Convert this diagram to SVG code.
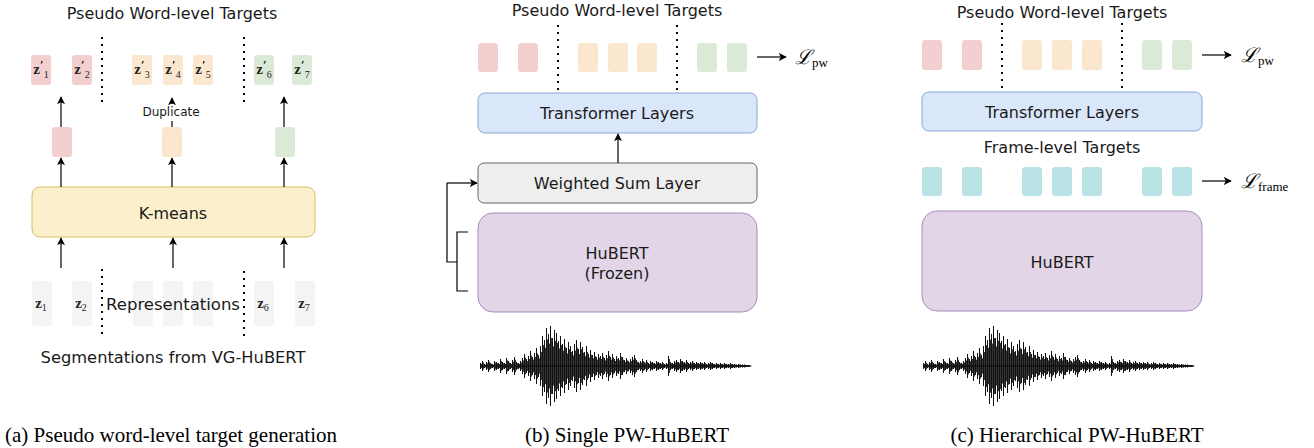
<svg xmlns="http://www.w3.org/2000/svg" xmlns:xlink="http://www.w3.org/1999/xlink" width="1314" height="448" viewBox="0 0 1314 448">
<style>
.t{font-family:"DejaVu Sans","Liberation Sans",sans-serif;fill:#1a1a1a;text-anchor:middle}
.cap{font-family:"Liberation Serif","Times New Roman",serif;font-size:21px;fill:#000;text-anchor:middle}
.m{font-family:"DejaVu Serif","Liberation Serif",serif;fill:#000}
.zb{font-family:"Liberation Serif",serif;font-weight:bold;font-size:15px;fill:#222;text-anchor:middle}
.red{fill:#f3d0cf}.org{fill:#fbe6cf}.grn{fill:#dbe9d7}.gry{fill:#f4f4f4}.teal{fill:#bae3e5}
.dot{stroke:#000;stroke-width:2;stroke-dasharray:2 5;fill:none}
.ln{stroke:#000;stroke-width:1.2;fill:none}
.wave{stroke:#111;stroke-width:1;fill:none}
</style>
<defs>
<marker id="ah" viewBox="0 0 10 10" refX="9" refY="5" markerWidth="8" markerHeight="8" markerUnits="userSpaceOnUse" orient="auto">
<path d="M0,0 L10,5 L0,10 L2.5,5 Z" fill="#000"/>
</marker>
<g id="wavePath">
<path class="wave" stroke-width="1.6" d="M0,0H270"/>
<path class="wave" d="M0,-3V3M2,-5V5M4,-2V2M6,-4V4M8,-6V6M10,-3V3M12,-2V2M14,-5V5M16,-4V4M18,-3V3M20,-7V7M22,-4V4M24,-3V3M26,-8V8M28,-5V5M30,-3V3M32,-6V6M34,-9V9M36,-4V4M38,-3V3M40,-5V5M42,-8V8M44,-12V12M46,-7V7M48,-10V10M50,-15V15M52,-9V9M54,-13V13M56,-18V18M58,-11V11M60,-20V20M62,-30V30M64,-26V26M66,-38V38M68,-32V32M70,-40V40M72,-28V28M74,-36V36M76,-33V33M78,-25V25M80,-30V30M82,-22V22M84,-27V27M86,-18V18M88,-24V24M90,-20V20M92,-15V15M94,-22V22M96,-26V26M98,-17V17M100,-24V24M102,-19V19M104,-14V14M106,-20V20M108,-12V12M110,-16V16M112,-11V11M114,-14V14M116,-9V9M118,-12V12M120,-10V10M122,-13V13M124,-8V8M126,-11V11M128,-15V15M130,-9V9M132,-12V12M134,-7V7M136,-10V10M138,-8V8M140,-13V13M142,-9V9M144,-6V6M146,-8V8M148,-5V5M150,-7V7M152,-9V9M154,-11V11M156,-6V6M158,-4V4M160,-5V5M162,-7V7M164,-4V4M166,-6V6M168,-3V3M170,-5V5M172,-4V4M174,-3V3M176,-5V5M178,-4V4M180,-3V3M182,-4V4M184,-2V2M186,-3V3M188,-10V10M190,-4V4M192,-3V3M194,-5V5M196,-6V6M198,-4V4M200,-7V7M202,-5V5M204,-4V4M206,-6V6M208,-3V3M210,-4V4M212,-5V5M214,-3V3M216,-4V4M218,-3V3M220,-4V4M222,-3V3M224,-4V4M226,-2V2M228,-3V3M230,-4V4M232,-3V3M234,-2V2M236,-3V3M238,-2V2M240,-3V3M242,-2V2M244,-3V3M246,-2V2M248,-2V2M250,-3V3M252,-2V2M254,-2V2M256,-1.5V1.5M258,-2V2M260,-1.5V1.5M262,-1.5V1.5M264,-1.5V1.5M266,-1V1M268,-1V1"/>
</g>
<g id="wave">
<use xlink:href="#wavePath" href="#wavePath"/>
<use xlink:href="#wavePath" href="#wavePath" transform="translate(1,0) scale(1,0.7)"/>
</g>
</defs>
<rect width="1314" height="448" fill="#fff"/>

<!-- ============ Panel (a) ============ -->
<g id="a-title"><text class="t" x="172" y="19" font-size="16">Pseudo Word-level Targets</text></g>
<g id="a-targets">
<rect class="red" x="31" y="55" width="20" height="30" rx="3"/>
<rect class="red" x="72" y="55" width="20" height="30" rx="3"/>
<rect class="org" x="132" y="55" width="20" height="30" rx="3"/>
<rect class="org" x="163" y="55" width="20" height="30" rx="3"/>
<rect class="org" x="193" y="55" width="20" height="30" rx="3"/>
<rect class="grn" x="254" y="55" width="20" height="30" rx="3"/>
<rect class="grn" x="292" y="55" width="20" height="30" rx="3"/>
<text class="zb" x="41" y="74">z<tspan font-size="13" dy="-5">′</tspan><tspan font-weight="normal" font-size="10" dy="9">1</tspan></text>
<text class="zb" x="82" y="74">z<tspan font-size="13" dy="-5">′</tspan><tspan font-weight="normal" font-size="10" dy="9">2</tspan></text>
<text class="zb" x="142" y="74">z<tspan font-size="13" dy="-5">′</tspan><tspan font-weight="normal" font-size="10" dy="9">3</tspan></text>
<text class="zb" x="173" y="74">z<tspan font-size="13" dy="-5">′</tspan><tspan font-weight="normal" font-size="10" dy="9">4</tspan></text>
<text class="zb" x="203" y="74">z<tspan font-size="13" dy="-5">′</tspan><tspan font-weight="normal" font-size="10" dy="9">5</tspan></text>
<text class="zb" x="264" y="74">z<tspan font-size="13" dy="-5">′</tspan><tspan font-weight="normal" font-size="10" dy="9">6</tspan></text>
<text class="zb" x="302" y="74">z<tspan font-size="13" dy="-5">′</tspan><tspan font-weight="normal" font-size="10" dy="9">7</tspan></text>
</g>
<g id="a-clusters">
<rect class="red" x="52" y="127" width="20" height="30" rx="3"/>
<rect class="org" x="162" y="127" width="20" height="30" rx="3"/>
<rect class="grn" x="275" y="127" width="20" height="30" rx="3"/>
</g>
<g id="a-duplicate"><text class="t" x="171" y="116" font-size="12">Duplicate</text></g>
<g id="a-kmeans">
<rect x="32" y="187" width="283" height="50" rx="8" fill="#fbf0cb" stroke="#d8bd6a" stroke-width="1"/>
<text class="t" x="173" y="219" font-size="16">K-means</text>
</g>
<g id="a-reps">
<rect class="gry" x="32" y="281" width="20" height="45" rx="3"/>
<rect class="gry" x="72" y="281" width="20" height="45" rx="3"/>
<rect class="gry" x="133" y="281" width="20" height="45" rx="3"/>
<rect class="gry" x="163" y="281" width="20" height="45" rx="3"/>
<rect class="gry" x="193" y="281" width="20" height="45" rx="3"/>
<rect class="gry" x="254" y="281" width="20" height="45" rx="3"/>
<rect class="gry" x="295" y="281" width="20" height="45" rx="3"/>
<text class="zb" x="41" y="308">z<tspan font-weight="normal" font-size="10" dy="3">1</tspan></text>
<text class="zb" x="81" y="308">z<tspan font-weight="normal" font-size="10" dy="3">2</tspan></text>
<text class="zb" x="263" y="308">z<tspan font-weight="normal" font-size="10" dy="3">6</tspan></text>
<text class="zb" x="304" y="308">z<tspan font-weight="normal" font-size="10" dy="3">7</tspan></text>
<text class="t" x="173" y="310" font-size="16.5">Representations</text>
</g>
<g id="a-seg"><text class="t" x="173" y="363" font-size="16.3">Segmentations from VG-HuBERT</text></g>
<g id="a-caption"><text class="cap" x="171" y="442">(a) Pseudo word-level target generation</text></g>

<!-- ============ Panel (b) ============ -->
<g id="b-title"><text class="t" x="617" y="16" font-size="16">Pseudo Word-level Targets</text></g>
<g id="b-targets">
<rect class="red" x="478" y="43" width="20" height="29" rx="3"/>
<rect class="red" x="518" y="43" width="20" height="29" rx="3"/>
<rect class="org" x="578" y="43" width="20" height="29" rx="3"/>
<rect class="org" x="608" y="43" width="20" height="29" rx="3"/>
<rect class="org" x="637" y="43" width="20" height="29" rx="3"/>
<rect class="grn" x="697" y="43" width="20" height="29" rx="3"/>
<rect class="grn" x="727" y="43" width="20" height="29" rx="3"/>
<text class="m" x="795" y="64" font-size="20" font-style="italic">ℒ<tspan font-style="normal" font-family="Liberation Serif" font-size="13" dy="3">pw</tspan></text>
</g>
<g id="b-transformer">
<rect x="478" y="93" width="279" height="40" rx="7" fill="#dae7fb" stroke="#8aa7d4" stroke-width="1"/>
<text class="t" x="617" y="119" font-size="16">Transformer Layers</text>
</g>
<g id="b-wsum">
<rect x="478" y="163" width="279" height="40" rx="6" fill="#eeeeee" stroke="#666" stroke-width="1"/>
<text class="t" x="617" y="189" font-size="16">Weighted Sum Layer</text>
</g>
<g id="b-hubert">
<rect x="478" y="213" width="279" height="99" rx="15" fill="#e1d5e7" stroke="#a98bbd" stroke-width="1"/>
<text class="t" x="617" y="259" font-size="16">HuBERT</text>
<text class="t" x="617" y="279" font-size="16">(Frozen)</text>
</g>
<g id="b-wave"><use xlink:href="#wave" href="#wave" transform="translate(480.5,366)"/></g>
<g id="b-caption"><text class="cap" x="627" y="442">(b) Single PW-HuBERT</text></g>

<!-- ============ Panel (c) ============ -->
<g id="c-title"><text class="t" x="1062" y="18" font-size="16">Pseudo Word-level Targets</text></g>
<g id="c-targets">
<rect class="red" x="922" y="40" width="20" height="30" rx="3"/>
<rect class="red" x="962" y="40" width="20" height="30" rx="3"/>
<rect class="org" x="1022" y="40" width="20" height="30" rx="3"/>
<rect class="org" x="1052" y="40" width="20" height="30" rx="3"/>
<rect class="org" x="1082" y="40" width="20" height="30" rx="3"/>
<rect class="grn" x="1142" y="40" width="20" height="30" rx="3"/>
<rect class="grn" x="1172" y="40" width="20" height="30" rx="3"/>
<text class="m" x="1241" y="62" font-size="20" font-style="italic">ℒ<tspan font-style="normal" font-family="Liberation Serif" font-size="13" dy="3">pw</tspan></text>
</g>
<g id="c-transformer">
<rect x="922" y="92" width="280" height="39" rx="7" fill="#dae7fb" stroke="#8aa7d4" stroke-width="1"/>
<text class="t" x="1062" y="118" font-size="16">Transformer Layers</text>
</g>
<g id="c-frame-title"><text class="t" x="1062" y="153" font-size="16">Frame-level Targets</text></g>
<g id="c-frames">
<rect class="teal" x="922" y="167" width="20" height="29" rx="3"/>
<rect class="teal" x="962" y="167" width="20" height="29" rx="3"/>
<rect class="teal" x="1022" y="167" width="20" height="29" rx="3"/>
<rect class="teal" x="1052" y="167" width="20" height="29" rx="3"/>
<rect class="teal" x="1082" y="167" width="20" height="29" rx="3"/>
<rect class="teal" x="1142" y="167" width="20" height="29" rx="3"/>
<rect class="teal" x="1172" y="167" width="20" height="29" rx="3"/>
<text class="m" x="1241" y="188" font-size="20" font-style="italic">ℒ<tspan font-style="normal" font-family="Liberation Serif" font-size="13" dy="3">frame</tspan></text>
</g>
<g id="c-hubert">
<rect x="922" y="211" width="280" height="100" rx="15" fill="#e1d5e7" stroke="#a98bbd" stroke-width="1"/>
<text class="t" x="1062" y="268" font-size="16">HuBERT</text>
</g>
<g id="c-wave"><use xlink:href="#wave" href="#wave" transform="translate(923.5,366)"/></g>
<g id="c-caption"><text class="cap" x="1077" y="442">(c) Hierarchical PW-HuBERT</text></g>

<!-- ============ Connectors ============ -->
<g id="connectors">
<path class="dot" d="M102,37V104M244,37V104M102,269V336M244,271V338"/>
<path class="dot" d="M558,25V91M677,25V91"/>
<path class="dot" d="M1002,23V90M1122,23V90"/>
<path class="ln" marker-end="url(#ah)" d="M61,127V97"/>
<path class="ln" marker-end="url(#ah)" d="M284,127V97"/>
<path class="ln" marker-end="url(#ah)" d="M172,104V98"/>
<path class="ln" d="M172,121V127"/>
<path class="ln" marker-end="url(#ah)" d="M61,187V158"/>
<path class="ln" marker-end="url(#ah)" d="M172,187V158"/>
<path class="ln" marker-end="url(#ah)" d="M284,187V158"/>
<path class="ln" marker-end="url(#ah)" d="M61,268V238"/>
<path class="ln" marker-end="url(#ah)" d="M173,268V238"/>
<path class="ln" marker-end="url(#ah)" d="M284,268V238"/>
<path class="ln" marker-end="url(#ah)" d="M757,57H786"/>
<path class="ln" marker-end="url(#ah)" d="M618,163V134"/>
<path class="ln" d="M468,232H457V291H468M457,262H447V183"/>
<path class="ln" marker-end="url(#ah)" d="M447,183H477"/>
<path class="ln" marker-end="url(#ah)" d="M1202,55H1231"/>
<path class="ln" marker-end="url(#ah)" d="M1202,181H1231"/>
</g>
</svg>
